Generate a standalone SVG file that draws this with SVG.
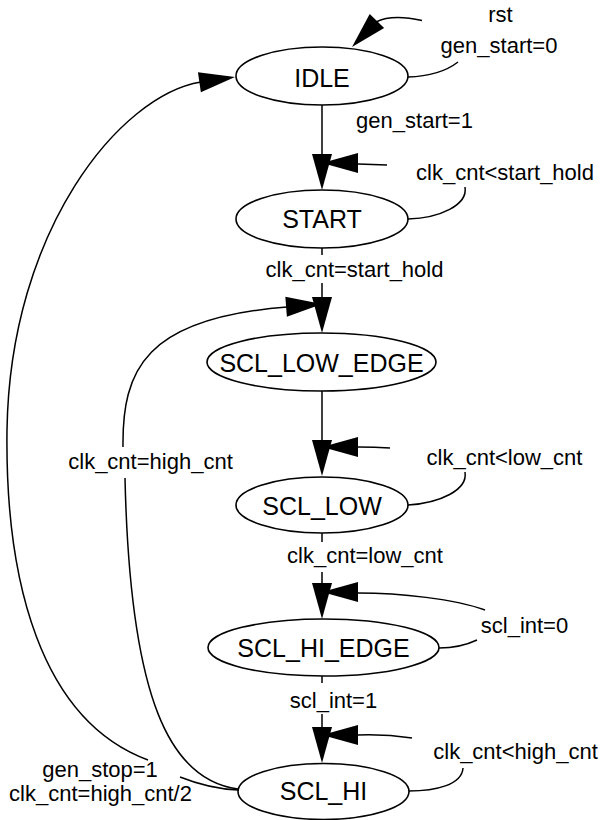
<svg xmlns="http://www.w3.org/2000/svg" xmlns:xlink="http://www.w3.org/1999/xlink" width="601" height="820" viewBox="0 0 601 820">
<style>
.node ellipse{fill:#fff;stroke:#000;stroke-width:1.6}
.node text{font-family:"Liberation Sans",Arial,sans-serif;font-size:25px;text-anchor:middle;fill:#000}
.edge{fill:none;stroke:#000;stroke-width:1.5}
.head{fill:#000;stroke:none}
.lbl{font-family:"Liberation Sans",Arial,sans-serif;font-size:22px;text-anchor:middle;fill:#000}
</style>
<defs>
<path id="ah" d="M0,0 L-36,-10 L-36,10 Z"/>
</defs>
<rect width="601" height="820" fill="#fff"/>
<g id="connectors">
<!-- IDLE reset self-loop -->
<path class="edge" d="M376,22 Q392,14 422,20.5 M458,62 Q440,76 408,77"/>
<use href="#ah" class="head" transform="translate(352,47) rotate(133.8)"/>
<!-- IDLE -> START -->
<path class="edge" d="M322,105 L322,156"/>
<use href="#ah" class="head" transform="translate(322,190) rotate(90)"/>
<!-- START self-loop -->
<path class="edge" d="M358,164 L387,165 M465,187 C468,205 440,218 408,219"/>
<use href="#ah" class="head" transform="translate(322,163) rotate(180)"/>
<!-- START -> SCL_LOW_EDGE -->
<path class="edge" d="M322,248 L322,255 M322,283 L322,299"/>
<use href="#ah" class="head" transform="translate(322,333) rotate(90)"/>
<!-- SCL_HI -> SCL_LOW_EDGE -->
<path class="edge" d="M238,789 C170,780 130,700 125,478 M123,447 C122,370 145,318 287,307"/>
<use href="#ah" class="head" transform="translate(322,304) rotate(-4.4)"/>
<!-- SCL_LOW_EDGE -> SCL_LOW -->
<path class="edge" d="M322,391 L322,442"/>
<use href="#ah" class="head" transform="translate(322,476) rotate(90)"/>
<!-- SCL_LOW self-loop -->
<path class="edge" d="M358,447 Q375,447 390,448 M465,472 C468,490 440,503 408,505"/>
<use href="#ah" class="head" transform="translate(322,447) rotate(180)"/>
<!-- SCL_LOW -> SCL_HI_EDGE -->
<path class="edge" d="M322,533 L322,542 M322,572 L322,585"/>
<use href="#ah" class="head" transform="translate(322,619) rotate(90)"/>
<!-- SCL_HI_EDGE self-loop -->
<path class="edge" d="M358,593 C400,593 455,599 485,610 M477,640 Q460,648 439,648"/>
<use href="#ah" class="head" transform="translate(322,592) rotate(180)"/>
<!-- SCL_HI_EDGE -> SCL_HI -->
<path class="edge" d="M322,676 L322,683 M322,714 L322,728"/>
<use href="#ah" class="head" transform="translate(322,763) rotate(90)"/>
<!-- SCL_HI self-loop -->
<path class="edge" d="M358,735 Q385,734 412,738 M463,768 C462,785 435,791 409,791"/>
<use href="#ah" class="head" transform="translate(322,735) rotate(180)"/>
<!-- SCL_HI -> IDLE -->
<path class="edge" d="M238,790 C215,789 195,783 180,777 M148,760 C40,720 5,580 7,430 C10,230 120,95 201,82"/>
<use href="#ah" class="head" transform="translate(235,77) rotate(-8.4)"/>
<!-- labels -->
<text class="lbl" x="500.5" y="22">rst</text>
<text class="lbl" x="499" y="53">gen_start=0</text>
<text class="lbl" x="414.5" y="128">gen_start=1</text>
<text class="lbl" x="505" y="180">clk_cnt&lt;start_hold</text>
<text class="lbl" x="354.5" y="277">clk_cnt=start_hold</text>
<text class="lbl" x="150.5" y="469">clk_cnt=high_cnt</text>
<text class="lbl" x="504.5" y="465">clk_cnt&lt;low_cnt</text>
<text class="lbl" x="365" y="563">clk_cnt=low_cnt</text>
<text class="lbl" x="524.5" y="633">scl_int=0</text>
<text class="lbl" x="333.5" y="708">scl_int=1</text>
<text class="lbl" x="515.5" y="759">clk_cnt&lt;high_cnt</text>
<text class="lbl" x="100" y="777">gen_stop=1</text>
<text class="lbl" x="100.5" y="801">clk_cnt=high_cnt/2</text>
</g>
<g id="IDLE" class="node"><ellipse cx="322" cy="76" rx="86" ry="29"/><text x="322" y="87">IDLE</text></g>
<g id="START" class="node"><ellipse cx="322" cy="219" rx="86" ry="29"/><text x="322" y="228">START</text></g>
<g id="SCL_LOW_EDGE" class="node"><ellipse cx="321.5" cy="362" rx="114.5" ry="29"/><text x="321.5" y="372">SCL_LOW_EDGE</text></g>
<g id="SCL_LOW" class="node"><ellipse cx="322" cy="505" rx="86" ry="28"/><text x="322" y="515">SCL_LOW</text></g>
<g id="SCL_HI_EDGE" class="node"><ellipse cx="323.5" cy="647.5" rx="115.5" ry="28.5"/><text x="323.5" y="657">SCL_HI_EDGE</text></g>
<g id="SCL_HI" class="node"><ellipse cx="323.5" cy="791.5" rx="85.5" ry="28"/><text x="323.5" y="800">SCL_HI</text></g>
</svg>
